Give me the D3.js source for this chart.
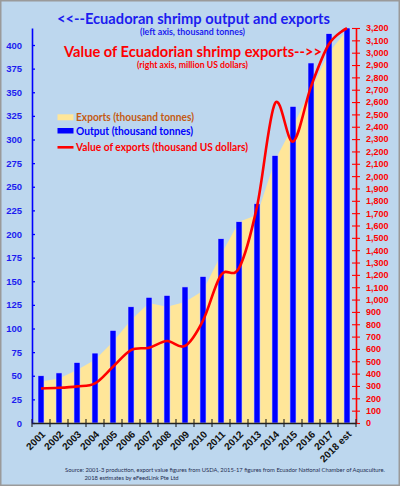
<!DOCTYPE html>
<html>
<head>
<meta charset="utf-8">
<title>Ecuadoran shrimp output and exports</title>
<script src="https://d3js.org/d3.v7.min.js"></script>
<style>
  body { margin: 0; background: #fff; }
  svg { display: block; font-family: Lato, "Open Sans", sans-serif; }
  .axis text { font-weight: bold; }
</style>
</head>
<body>
<div id="chart"></div>
<script>
// data
var years = ["2001", "2002", "2003", "2004", "2005", "2006", "2007", "2008", "2009",
             "2010", "2011", "2012", "2013", "2014", "2015", "2016", "2017", "2018 est"];
// thousand tonnes, left axis
var output  = [50, 53, 64, 74, 98, 123, 133, 135, 144, 155, 195, 213, 232, 283, 335, 381, 412, 418];
var exports = [44, 47, 56, 67, 86, 109, 127, 123, 128, 140, 178, 213, 220, 278, 314, 353, 392, 416];
// million US dollars, right axis
var exportValue = [280, 285, 297, 321, 456, 591, 610, 664, 624, 830, 1199, 1254, 1753, 2590, 2280, 2725, 3070, 3198];

var leftTicks = d3.range(0, 401, 25);
var rightTicks = d3.range(0, 3201, 100);

var W = 400, H = 486;
var plot = {left: 32, right: 356, top: 28, bottom: 423};

var rows = years.map(function(y, i) {
    return {year: y, output: output[i], exports: exports[i], value: exportValue[i]};
});

var x = d3.scaleBand().domain(years).range([plot.left, plot.right]);
var yL = d3.scaleLinear().domain([0, 418]).range([plot.bottom, plot.top]);
var yR = d3.scaleLinear().domain([0, 3200]).range([plot.bottom, plot.top]);
var bw = x.bandwidth();
function cx(d) { return x(d.year) + bw / 2; }

var svg = d3.select("#chart").append("svg")
    .attr("width", W)
    .attr("height", H);

// background + frame
svg.append("rect")
    .attr("x", 0.75).attr("y", 0.75)
    .attr("width", W - 1.5).attr("height", H - 1.5)
    .attr("fill", "#bdd7ee")
    .attr("stroke", "#9a9a9a")
    .attr("stroke-width", 1.5);

// exports area
var area = d3.area()
    .x(cx)
    .y0(yL(0))
    .y1(function(d) { return yL(d.exports); });
svg.append("path")
    .datum(rows)
    .attr("fill", "#ffe699")
    .attr("d", area);

// output bars
svg.append("g")
    .selectAll("rect")
    .data(rows)
    .enter().append("rect")
        .attr("x", function(d) { return x(d.year) + bw / 3; })
        .attr("y", function(d) { return yL(d.output); })
        .attr("width", bw / 3)
        .attr("height", function(d) { return yL(0) - yL(d.output); })
        .attr("fill", "#0000ff")
        .attr("stroke", "#c9d4ff")
        .attr("stroke-width", 0.6);

// export value line
var line = d3.line()
    .x(cx)
    .y(function(d) { return yR(d.value); })
    .curve(d3.curveCatmullRom.alpha(0));
svg.append("path")
    .datum(rows)
    .attr("fill", "none")
    .attr("stroke", "#ff0000")
    .attr("stroke-width", 2.6)
    .attr("d", line);

// left axis
var gL = svg.append("g")
    .attr("class", "axis")
    .attr("transform", "translate(" + plot.left + ",0)")
    .call(d3.axisLeft(yL).tickValues(leftTicks).tickSize(3).tickSizeOuter(0).tickPadding(7));
gL.select(".domain").attr("stroke", "#0000ff").attr("stroke-width", 1.6);
gL.selectAll(".tick line").attr("x2", 3).attr("stroke", "#0000ff").attr("stroke-width", 1.3);
gL.selectAll(".tick text").attr("fill", "#1c1cf0").attr("font-size", "9.5px");

// right axis
var gR = svg.append("g")
    .attr("class", "axis")
    .attr("transform", "translate(" + plot.right + ",0)")
    .call(d3.axisRight(yR).tickValues(rightTicks).tickSize(4).tickSizeOuter(0)
        .tickPadding(6).tickFormat(d3.format(",")));
gR.select(".domain").attr("stroke", "#ff0000").attr("stroke-width", 1.6);
gR.selectAll(".tick line").attr("x1", -4).attr("stroke", "#ff0000").attr("stroke-width", 1.1);
gR.selectAll(".tick text").attr("fill", "#ff0000").attr("font-size", "9px");

// category axis
var gX = svg.append("g")
    .attr("class", "axis")
    .attr("transform", "translate(0," + plot.bottom + ")")
    .call(d3.axisBottom(x).tickSize(0).tickSizeOuter(0));
gX.select(".domain").attr("stroke", "#222").attr("stroke-width", 1.6);
gX.selectAll(".tick text")
    .attr("font-size", "10px")
    .attr("fill", "#111")
    .attr("text-anchor", "end")
    .attr("y", 0).attr("dy", 0)
    .attr("transform", "translate(5,12) rotate(-45)");
// tick marks sit on the category boundaries
gX.append("g")
    .selectAll("line")
    .data(years.map(function(y) { return x(y); }).concat([x.range()[1]]))
    .enter().append("line")
        .attr("x1", function(d) { return d; })
        .attr("x2", function(d) { return d; })
        .attr("y1", -4).attr("y2", 4)
        .attr("stroke", "#222")
        .attr("stroke-width", 1.1);

// titles
function label(txt, xPos, yPos, size, color, len) {
    svg.append("text")
        .attr("x", xPos).attr("y", yPos)
        .attr("text-anchor", "middle")
        .attr("font-size", size + "px")
        .attr("font-weight", "bold")
        .attr("fill", color)
        .attr("textLength", len)
        .attr("lengthAdjust", "spacingAndGlyphs")
        .text(txt);
}
label("<<--Ecuadoran shrimp output and exports", 193.5, 23.5, 15.5, "#1c1cf0", 273);
label("(left axis, thousand tonnes)", 192.5, 35, 9, "#1c1cf0", 105);
label("Value of Ecuadorian shrimp exports-->>", 193, 56.5, 15.5, "#ff0000", 258);
label("(right axis, million US dollars)", 192.5, 67.5, 9, "#ff0000", 111);

// legend
var legendItems = [
    {name: "Exports (thousand tonnes)", color: "#c55a11", len: 118, y: 117.3},
    {name: "Output (thousand tonnes)", color: "#0000ff", len: 117, y: 130.7},
    {name: "Value of exports (thousand US dollars)", color: "#ff0000", len: 172, y: 147.3}
];
var legend = svg.append("g");
legend.append("rect")
    .attr("x", 57.5).attr("y", 114.3).attr("width", 16).attr("height", 6)
    .attr("fill", "#ffe699");
legend.append("rect")
    .attr("x", 57.5).attr("y", 128).attr("width", 16).attr("height", 5.5)
    .attr("fill", "#0000ff");
legend.append("line")
    .attr("x1", 57.5).attr("x2", 73.5).attr("y1", 147.3).attr("y2", 147.3)
    .attr("stroke", "#ff0000").attr("stroke-width", 2.6);
legend.selectAll("text")
    .data(legendItems)
    .enter().append("text")
        .attr("x", 76)
        .attr("y", function(d) { return d.y + 4; })
        .attr("font-size", "11px")
        .attr("font-weight", "bold")
        .attr("fill", function(d) { return d.color; })
        .attr("textLength", function(d) { return d.len; })
        .attr("lengthAdjust", "spacingAndGlyphs")
        .text(function(d) { return d.name; });

// source note
svg.append("text")
    .attr("x", 225).attr("y", 471.5)
    .attr("text-anchor", "middle")
    .attr("font-size", "5.5px")
    .attr("fill", "#1f2d50")
    .attr("textLength", 320)
    .attr("lengthAdjust", "spacingAndGlyphs")
    .text("Source: 2001-3  production, export value figures from USDA, 2015-17 figures from Ecuador National Chamber of Aquaculture.");
svg.append("text")
    .attr("x", 84.5).attr("y", 479.5)
    .attr("font-size", "6.5px")
    .attr("fill", "#1f2d50")
    .attr("textLength", 94)
    .attr("lengthAdjust", "spacingAndGlyphs")
    .text("2018 estimates by eFeedLink Pte Ltd");
</script>
</body>
</html>
